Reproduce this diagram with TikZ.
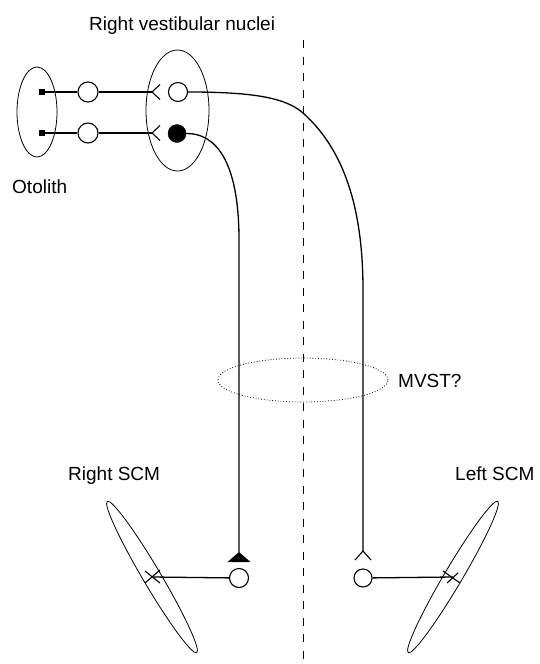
\documentclass[tikz,border=0pt]{standalone}
\usepackage{fontspec}
\setmainfont{Liberation Sans}
\usetikzlibrary{shapes.geometric}
\begin{document}
\begin{tikzpicture}[x=1pt,y=-1pt,
  conn/.style={line width=1.3pt},
  outline/.style={draw,ellipse,line width=0.8pt,inner sep=0pt},
  cell/.style={draw,circle,line width=1.1pt,inner sep=0pt,minimum size=20pt,fill=white},
  fcell/.style={draw,circle,fill=black,inner sep=0pt,minimum size=18pt},
  recep/.style={draw,fill=black,rectangle,inner sep=0pt,minimum size=5pt},
  lbl/.style={font=\fontsize{19}{22}\selectfont,inner sep=0pt},
  syn/.style={line width=1.1pt}]
\useasboundingbox (0,0) rectangle (539,664);
% midline
\coordinate (dtop) at (303,40);
\coordinate (dbot) at (303,664);
\draw[line width=1pt,dash pattern=on 8pt off 8.5pt] (dtop) -- (dbot);
% otolith and nuclei outlines
\node[outline,minimum width=40pt,minimum height=90pt] (oto) at (37,112) {};
\node[outline,minimum width=63pt,minimum height=121pt] (vn) at (177.5,110.5) {};
% MVST dotted ellipse
\node[draw,ellipse,dotted,line width=0.8pt,minimum width=170pt,minimum height=44pt,inner sep=0pt] (mvst) at (303,380) {};
% receptors
\node[recep] (r1) at (42,92) {};
\node[recep] (r2) at (42,133) {};
% primary afferent cells
\node[cell] (a1) at (88,92) {};
\node[cell] (a2) at (88,133) {};
% synapse tips
\coordinate (s1) at (152,92);
\coordinate (s2) at (152,133);
\draw[syn] (160,84.5) -- (s1) -- (160,99.5);
\draw[syn] (160,125.5) -- (s2) -- (160,140.5);
% vestibular nuclei cells
\node[cell,minimum size=19pt] (v1) at (178,92) {};
\node[fcell] (v2) at (177,133.5) {};
% connections
\draw[conn] (r1) -- (a1);
\draw[conn] (r2) -- (a2);
\draw[conn] (a1) -- (s1);
\draw[conn] (a2) -- (s2);
% descending pathways
\coordinate (tri) at (239,552);
\coordinate (chev) at (363,551);
\draw[conn] (v1.east) .. controls (250,92) and (285,97) .. (303,113)
  .. controls (340,146) and (363,200) .. (363,290) -- (chev);
\draw[conn] (v2.east) .. controls (215,133) and (239,160) .. (239,240) -- (tri);
% terminals
\fill (tri) -- (250.5,562) -- (227.5,562) -- cycle;
\draw[syn] (355,560) -- (chev) -- (371,560);
% motoneurons
\node[cell,minimum size=19pt] (m1) at (239,578) {};
\node[cell,minimum size=18pt] (m2) at (363,578) {};
% SCM muscles
\node[outline,minimum width=176pt,minimum height=18pt,rotate=-59.4] (rscm) at (152,577) {};
\node[outline,minimum width=176pt,minimum height=18pt,rotate=59.4] (lscm) at (453,577) {};
\draw[conn] (m1) -- (rscm.center);
\draw[conn] (m2) -- (lscm.center);
\draw[syn] ([shift={(-7,-6)}]rscm.center) -- ([shift={(8,6)}]rscm.center);
\draw[syn] ([shift={(-7,6)}]rscm.center) -- ([shift={(8,-7)}]rscm.center);
\draw[syn] ([shift={(-10,-6)}]lscm.center) -- ([shift={(7,6)}]lscm.center);
\draw[syn] ([shift={(-6,6)}]lscm.center) -- ([shift={(5,-4)}]lscm.center);
% labels
\node[lbl,anchor=base west] (tvn) at (89,30) {Right vestibular nuclei};
\node[lbl,anchor=base west] (toto) at (12,193) {Otolith};
\node[lbl,anchor=base west] (tr) at (68,480) {Right SCM};
\node[lbl,anchor=base west] (tl) at (455,480) {Left SCM};
\node[lbl,anchor=base west] (tm) at (398,387) {MVST?};
\end{tikzpicture}
\end{document}
